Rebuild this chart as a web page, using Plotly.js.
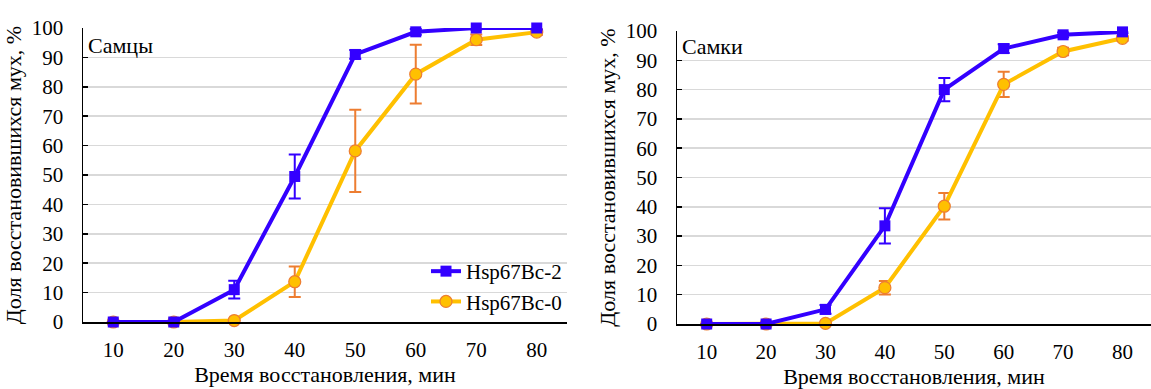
<!DOCTYPE html>
<html>
<head>
<meta charset="utf-8">
<script src="https://cdn.plot.ly/plotly-3.0.1.min.js"></script>
<style>
html,body{margin:0;padding:0;background:#fff;}
#chart{width:1151px;height:389px;}
#chart text{font-family:'Liberation Serif' !important;}
</style>
</head>
<body>
<div id="chart"></div>
<script>
// Time points (min)
const times = [10, 20, 30, 40, 50, 60, 70, 80];
const tickLabels = ["10", "20", "30", "40", "50", "60", "70", "80"];
const seriesNames = ["Hsp67Bc-2", "Hsp67Bc-0"];
const panelLabels = ["Самцы", "Самки"];

// Males (Самцы)
const malesBc2 = [0, 0, 11, 49.5, 91, 98.7, 100, 100];
const malesBc2Err = [0, 0, 3, 7.5, 1.5, 1, 0.5, 0.5];
const malesBc0 = [0, 0, 0.5, 13.7, 58.2, 84.3, 96, 98.6];
const malesBc0Err = [0, 0, 0, 5.2, 14, 10, 1.8, 1];

// Females (Самки)
const femalesBc2 = [0, 0, 5, 33.5, 80, 94, 98.7, 99.7];
const femalesBc2Err = [0, 0, 1.5, 6, 4, 1.5, 0.8, 0.5];
const femalesBc0 = [0, 0, 0.2, 12.4, 40.2, 81.8, 93, 97.5];
const femalesBc0Err = [0, 0, 0, 2.3, 4.5, 4.3, 1.3, 0.8];

const BLUE = '#3300ff';
const YELLOW = '#ffc000';
const ORANGE = '#ed7d31';
const FONT = 'Liberation Serif';

function bc0(y, err, xa, ya, show) {
  return {
    x: times, y: y, xaxis: xa, yaxis: ya, name: seriesNames[1], showlegend: show,
    type: 'scatter', mode: 'lines+markers', cliponaxis: false,
    line: {color: YELLOW, width: 4},
    marker: {symbol: 'circle', size: 12, color: YELLOW, line: {color: ORANGE, width: 1.2}},
    error_y: {type: 'data', array: err, visible: true, color: ORANGE, thickness: 2, width: 6}
  };
}
function bc2(y, err, xa, ya, show) {
  return {
    x: times, y: y, xaxis: xa, yaxis: ya, name: seriesNames[0], showlegend: show,
    type: 'scatter', mode: 'lines+markers', cliponaxis: false,
    line: {color: BLUE, width: 4},
    marker: {symbol: 'square', size: 11, color: BLUE},
    error_y: {type: 'data', array: err, visible: true, color: BLUE, thickness: 2, width: 6}
  };
}

const data = [
  bc0(malesBc0, malesBc0Err, 'x', 'y', true),
  bc2(malesBc2, malesBc2Err, 'x', 'y', true),
  bc0(femalesBc0, femalesBc0Err, 'x2', 'y2', false),
  bc2(femalesBc2, femalesBc2Err, 'x2', 'y2', false)
];

const W = 1151, H = 389;
function xaxisDef(domain, range) {
  return {
    domain: domain, range: range, tickmode: 'array', tickvals: times, ticktext: tickLabels,
    showgrid: false, zeroline: false, showline: true, linecolor: '#000', linewidth: 1.5,
    ticks: '', ticklabelstandoff: 8,
    tickfont: {family: FONT, size: 21, color: '#000'},
    title: {text: 'Время восстановления, мин', font: {family: FONT, size: 22, color: '#000'}, standoff: 6}
  };
}
function yaxisDef(domain, anchor) {
  return {
    domain: domain, range: [0, 100], tickvals: [0,10,20,30,40,50,60,70,80,90,100], anchor: anchor,
    showgrid: true, gridcolor: '#d9d9d9', gridwidth: 1.5, zeroline: false,
    showline: true, linecolor: '#000', linewidth: 1.5,
    ticks: 'inside', ticklen: 5, tickcolor: '#000', tickwidth: 1.5, ticklabelstandoff: 14,
    tickfont: {family: FONT, size: 21, color: '#000'},
    title: {text: 'Доля восстановившихся мух, %', font: {family: FONT, size: 22, color: '#000'}, standoff: 4}
  };
}

const layout = {
  width: W, height: H,
  margin: {l: 0, r: 0, t: 0, b: 0},
  paper_bgcolor: '#fff', plot_bgcolor: '#fff',
  font: {family: FONT, size: 20, color: '#000'},
  showlegend: true,
  legend: {
    x: 567 / W, xanchor: 'right', y: 1 - 322 / H, yanchor: 'bottom',
    traceorder: 'reversed', bgcolor: 'rgba(0,0,0,0)',
    font: {family: FONT, size: 21, color: '#000'}, tracegroupgap: 0
  },
  xaxis: xaxisDef([83 / W, 567 / W], [5, 85]),
  yaxis: yaxisDef([1 - 322 / H, 1 - 28 / H], 'x'),
  xaxis2: Object.assign(xaxisDef([677 / W, 1], [5, 84.8]), {anchor: 'y2'}),
  yaxis2: yaxisDef([1 - 324 / H, 1 - 31 / H], 'x2'),
  annotations: [
    {text: panelLabels[0], xref: 'paper', yref: 'paper', x: 86 / W, y: 1 - 45 / H, xanchor: 'left', yanchor: 'middle', showarrow: false, font: {family: FONT, size: 22, color: '#000'}},
    {text: panelLabels[1], xref: 'paper', yref: 'paper', x: 680 / W, y: 1 - 47 / H, xanchor: 'left', yanchor: 'middle', showarrow: false, font: {family: FONT, size: 22, color: '#000'}}
  ]
};

Plotly.newPlot('chart', data, layout, {displayModeBar: false, staticPlot: true});
</script>
</body>
</html>
